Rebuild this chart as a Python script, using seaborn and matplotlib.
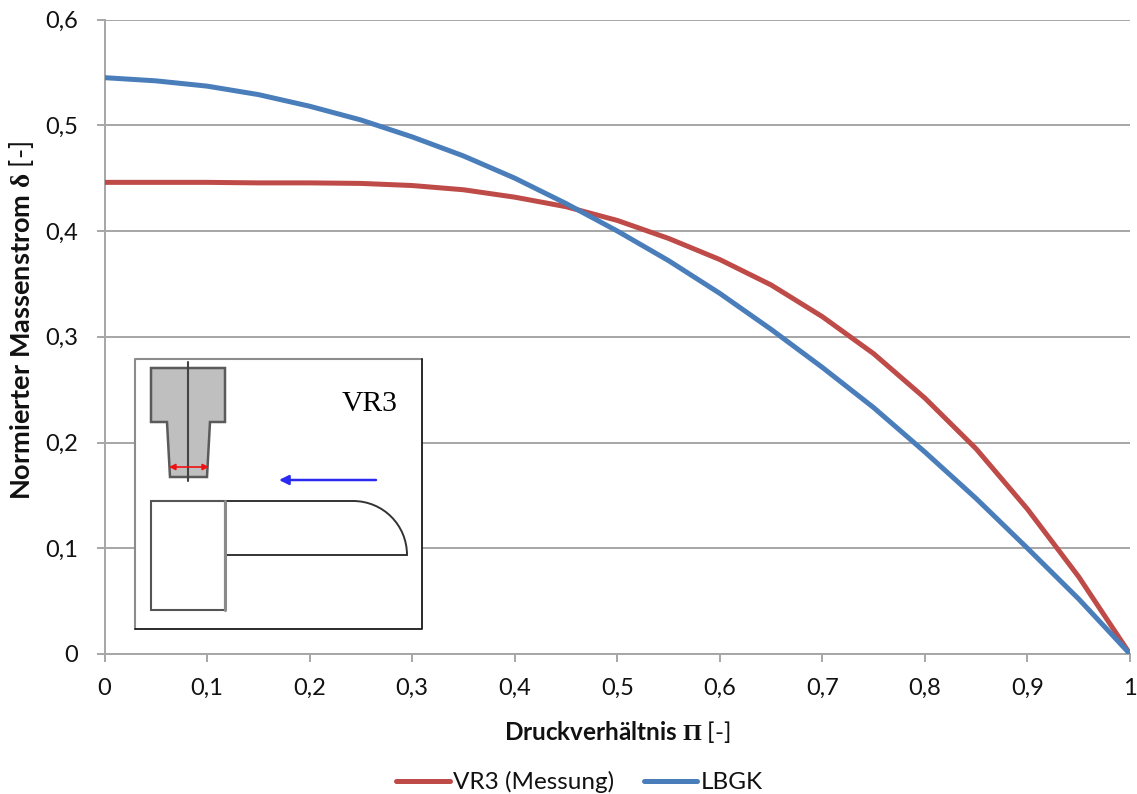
import pandas as pd
import matplotlib
matplotlib.use("Agg")
import matplotlib.pyplot as plt
import seaborn as sns
from matplotlib.patches import PathPatch, Polygon, Rectangle
from matplotlib.path import Path

# values
druck = [0, 0.05, 0.1, 0.15, 0.2, 0.25, 0.3, 0.35, 0.4, 0.45, 0.5,
         0.55, 0.6, 0.65, 0.7, 0.75, 0.8, 0.85, 0.9, 0.95, 1]
vr3 = [0.446, 0.446, 0.446, 0.4455, 0.4455, 0.445, 0.443, 0.439, 0.432, 0.423, 0.41,
       0.393, 0.373, 0.349, 0.319, 0.284, 0.242, 0.194, 0.137, 0.073, 0]
lbgk = [0.545, 0.542, 0.537, 0.529, 0.518, 0.505, 0.489, 0.471, 0.45, 0.426, 0.4,
        0.372, 0.341, 0.307, 0.271, 0.233, 0.191, 0.147, 0.1, 0.052, 0]
x_ticks = [0, 0.1, 0.2, 0.3, 0.4, 0.5, 0.6, 0.7, 0.8, 0.9, 1]
y_ticks = [0, 0.1, 0.2, 0.3, 0.4, 0.5, 0.6]
name_vr3 = "VR3 (Messung)"
name_lbgk = "LBGK"

sns.set_theme(style="white")
plt.rcParams["font.family"] = ["Lato", "DejaVu Sans"]
plt.rcParams["mathtext.fontset"] = "custom"
plt.rcParams["mathtext.rm"] = "Liberation Serif:bold"
plt.rcParams["mathtext.sf"] = "Lato"

W, H = 1137, 794
gray = "#a6a6a6"

df = pd.concat([
    pd.DataFrame({"x": druck, "y": vr3, "serie": name_vr3}),
    pd.DataFrame({"x": druck, "y": lbgk, "serie": name_lbgk}),
])

fig = plt.figure(figsize=(W / 100, H / 100), dpi=100)
ax = fig.add_axes([104.5 / W, 1 - 654 / H, (1130 - 104.5) / W, (654 - 19.5) / H])

sns.lineplot(data=df, x="x", y="y", hue="serie", ax=ax, linewidth=3.6,
             palette={name_vr3: "#be4b48", name_lbgk: "#4a7ebb"}, legend=False,
             errorbar=None, sort=False, zorder=3)

ax.set_xlim(0, 1)
ax.set_ylim(0, 0.6)
ax.set_xticks(x_ticks)
ax.set_yticks(y_ticks)
ax.set_xticklabels([str(t).replace(".", ",") for t in x_ticks])
ax.set_yticklabels([str(t).replace(".", ",") for t in y_ticks])
ax.tick_params(axis="y", labelsize=17, color=gray, width=1.4, length=6, left=True, pad=13, labelcolor="#111111")
ax.tick_params(axis="x", labelsize=17, color=gray, width=1.4, length=6, bottom=True, pad=11, labelcolor="#111111")
ax.grid(axis="y", color=gray, linewidth=1.4)
ax.set_axisbelow(True)
for s in ["top", "right"]:
    ax.spines[s].set_visible(False)
for s in ["left", "bottom"]:
    ax.spines[s].set_color(gray)
    ax.spines[s].set_linewidth(1.4)

ax.set_xlabel(r"Druckverhältnis $\mathrm{\Pi}$ $\mathsf{[‐]}$", fontsize=17.5, fontweight="bold", color="#111111", labelpad=15)
ax.set_ylabel(r"Normierter Massenstrom $\mathrm{\delta}$ $\mathsf{[‐]}$", fontsize=19.5, fontweight="bold", color="#111111")
ax.yaxis.set_label_coords(-(104.5 - 36) / (1130 - 104.5), (654 - 321) / (654 - 19.5))

# legend below the plot
handles = [plt.Line2D([], [], color="#be4b48", lw=3.6, solid_capstyle="round"),
           plt.Line2D([], [], color="#4a7ebb", lw=3.6, solid_capstyle="round")]
fig.legend(handles, [name_vr3, name_lbgk], loc="center", bbox_to_anchor=(579.5 / W, 1 - 782 / H),
           ncol=2, frameon=False, fontsize=17.5, handlelength=2.2, handletextpad=0.15,
           columnspacing=1.2, labelcolor="#111111")

# schematic inset, drawn in pixel coordinates of the picture
sk = fig.add_axes([0, 0, 1, 1], zorder=5)
sk.set_xlim(0, W)
sk.set_ylim(H, 0)
sk.axis("off")
sk.patch.set_alpha(0)

sk.add_patch(Rectangle((135, 359), 287, 270, fc="white", ec="none"))
sk.plot([135, 135, 422], [629, 359, 359], color="#8c8c8c", lw=1.5)
sk.plot([135, 422, 422], [629, 629, 359], color="#1a1a1a", lw=1.3)

sk.add_patch(Polygon([(151, 368), (225, 368), (225, 422), (210, 422), (207, 477),
                      (170, 477), (167, 422), (151, 422)],
                     closed=True, fc="#bfbfbf", ec="#5a5a5a", lw=1.8))
sk.plot([188, 188], [362, 481], color="#444444", lw=1.5)
sk.annotate("", xy=(169, 467), xytext=(209, 467),
            arrowprops=dict(arrowstyle="<|-|>", color="#f01010", lw=1.2, mutation_scale=9, shrinkA=0, shrinkB=0))
sk.annotate("", xy=(279, 480), xytext=(376, 480),
            arrowprops=dict(arrowstyle="-|>", color="#2a2af0", lw=1.8, mutation_scale=14, shrinkA=0, shrinkB=0))

sk.add_patch(Rectangle((151, 501), 74, 109, fc="none", ec="#555555", lw=1.5))
sk.plot([225, 225], [501, 610], color="#8a8a8a", lw=2.2)
sk.add_patch(PathPatch(Path([(225, 501), (353, 501), (383, 501), (407, 525), (407, 555), (225, 555)],
                            [Path.MOVETO, Path.LINETO, Path.CURVE4, Path.CURVE4, Path.CURVE4, Path.LINETO]),
                       fc="none", ec="#333333", lw=1.4))
sk.text(370, 411, "VR3", family="Liberation Serif", fontsize=21.3, ha="center", va="baseline", color="black")

fig.savefig("out.png", dpi=100)
